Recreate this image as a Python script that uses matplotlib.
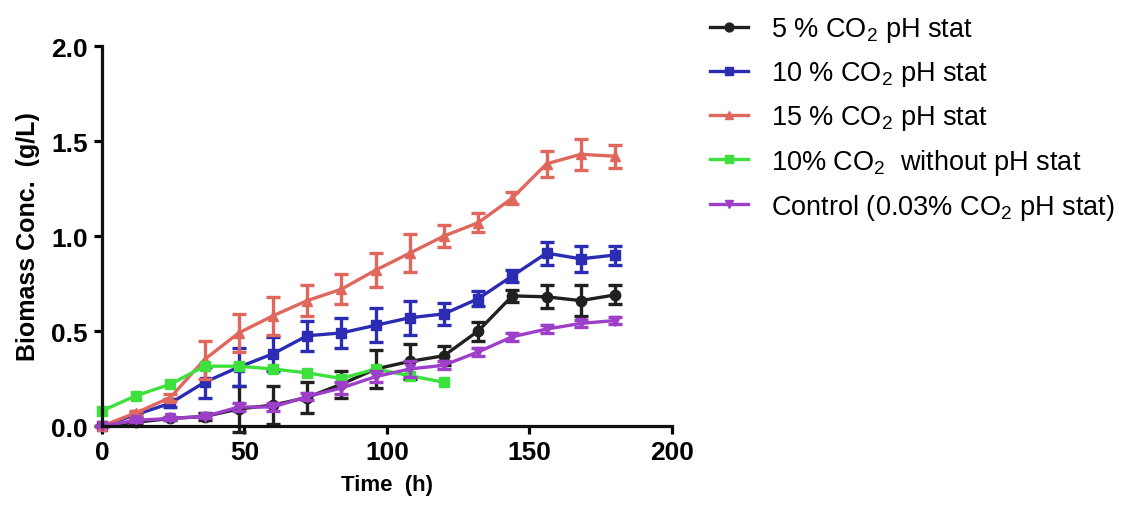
import matplotlib
matplotlib.use('Agg')
import matplotlib.pyplot as plt

plt.rcParams['font.family'] = ['Liberation Sans', 'DejaVu Sans']
plt.rcParams['mathtext.fontset'] = 'custom'
plt.rcParams['mathtext.rm'] = 'Liberation Sans'
plt.rcParams['mathtext.it'] = 'Liberation Sans:italic'
plt.rcParams['mathtext.bf'] = 'Liberation Sans:bold'

# Tiempo de muestreo (h)
time_h = [0, 12, 24, 36, 48, 60, 72, 84, 96, 108, 120, 132, 144, 156, 168, 180]
time_green = [0, 12, 24, 36, 48, 60, 72, 84, 96, 108, 120]

# Biomasa (g/L) y desviaciones
co2_5 = [0.0, 0.02, 0.04, 0.05, 0.09, 0.11, 0.15, 0.22, 0.30, 0.34, 0.37, 0.50, 0.685, 0.68, 0.66, 0.69]
co2_5_err = [0.0, 0.01, 0.01, 0.02, 0.12, 0.10, 0.08, 0.07, 0.10, 0.09, 0.05, 0.05, 0.03, 0.06, 0.08, 0.05]

co2_10 = [0.0, 0.06, 0.12, 0.23, 0.31, 0.38, 0.475, 0.49, 0.53, 0.57, 0.59, 0.67, 0.79, 0.91, 0.88, 0.90]
co2_10_err = [0.0, 0.01, 0.02, 0.08, 0.10, 0.09, 0.08, 0.08, 0.09, 0.09, 0.06, 0.04, 0.03, 0.06, 0.07, 0.05]

co2_15 = [0.0, 0.07, 0.15, 0.35, 0.49, 0.58, 0.66, 0.72, 0.82, 0.91, 1.00, 1.07, 1.20, 1.38, 1.43, 1.42]
co2_15_err = [0.0, 0.01, 0.02, 0.10, 0.10, 0.10, 0.08, 0.08, 0.09, 0.10, 0.06, 0.05, 0.03, 0.07, 0.08, 0.06]

co2_10_nostat = [0.08, 0.16, 0.22, 0.315, 0.315, 0.30, 0.28, 0.25, 0.30, 0.265, 0.23]

control = [0.0, 0.03, 0.04, 0.05, 0.10, 0.10, 0.155, 0.20, 0.26, 0.30, 0.32, 0.39, 0.47, 0.51, 0.54, 0.555]
control_err = [0.0, 0.01, 0.01, 0.01, 0.02, 0.02, 0.02, 0.03, 0.03, 0.04, 0.02, 0.02, 0.02, 0.02, 0.02, 0.02]

labels = ['5 % CO$_2$ pH stat', '10 % CO$_2$ pH stat', '15 % CO$_2$ pH stat',
          '10% CO$_2$  without pH stat', 'Control (0.03% CO$_2$ pH stat)']

fig = plt.figure(figsize=(11.24, 5.10), dpi=100)
ax = fig.add_axes([0.0907, 0.1627, 0.5071, 0.7451])

series = [
    (time_h, co2_5, co2_5_err, '#202020', 'o', labels[0]),
    (time_h, co2_10, co2_10_err, '#2b2bb3', 's', labels[1]),
    (time_h, co2_15, co2_15_err, '#e0675c', '^', labels[2]),
    (time_green, co2_10_nostat, None, '#3de03d', 's', labels[3]),
    (time_h, control, control_err, '#9d3fc8', 'v', labels[4]),
]

for t, y, err, color, mk, lab in series:
    if err is not None:
        ax.errorbar(t, y, yerr=err, fmt='none', ecolor=color, elinewidth=2.4,
                    capsize=5, capthick=2.4, clip_on=False)
    ax.plot(t, y, color=color, marker=mk, markersize=7.5, linewidth=2.4,
            label=lab, clip_on=False)

ax.set_xlim(0, 200)
ax.set_ylim(0, 2.0)
ax.set_xticks([0, 50, 100, 150, 200])
ax.set_yticks([0.0, 0.5, 1.0, 1.5, 2.0])
ax.set_yticklabels(['0.0', '0.5', '1.0', '1.5', '2.0'])

for side in ['top', 'right']:
    ax.spines[side].set_visible(False)
for side in ['left', 'bottom']:
    ax.spines[side].set_linewidth(2.3)
    ax.spines[side].set_color('#111111')

ax.tick_params(direction='out', length=6, width=2.3, labelsize=19, pad=4)
for lbl in ax.get_xticklabels() + ax.get_yticklabels():
    lbl.set_fontweight('bold')

ax.set_xlabel('Time  (h)', fontsize=16, fontweight='bold', labelpad=7)
ax.set_ylabel('Biomass Conc.  (g/L)', fontsize=18, fontweight='bold', labelpad=8)

ax.legend(loc='upper left', bbox_to_anchor=(0.617, 1.0), bbox_transform=fig.transFigure,
          frameon=False, fontsize=19.5, handlelength=1.4, handletextpad=0.85,
          labelspacing=0.55, borderaxespad=0.2, markerscale=0.85)

fig.savefig('out.png', dpi=100, facecolor='white')
